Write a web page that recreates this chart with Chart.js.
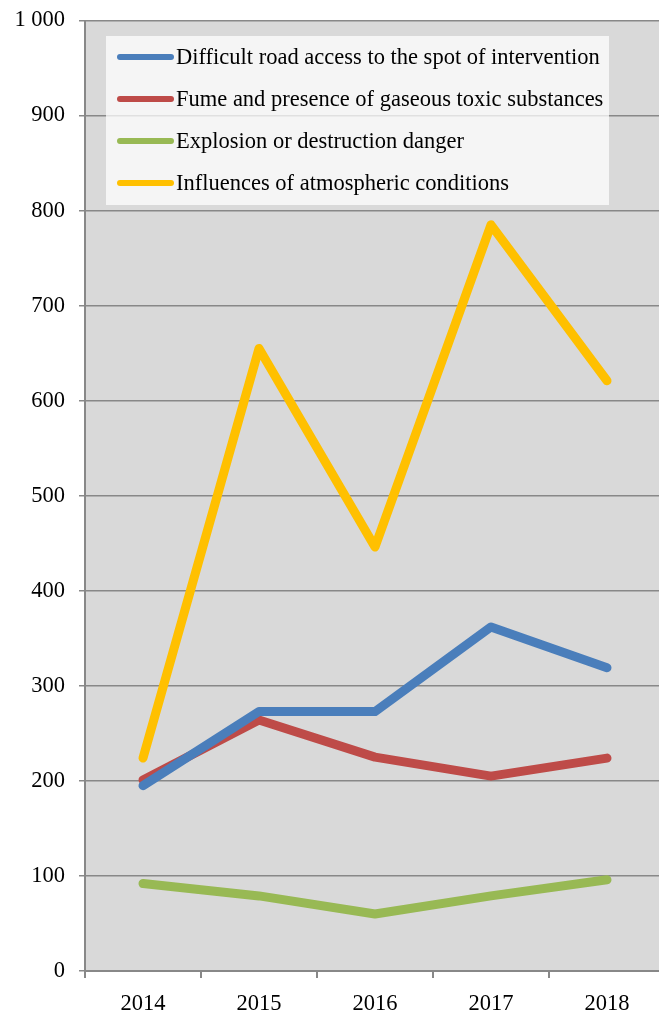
<!DOCTYPE html>
<html><head><meta charset="utf-8">
<script src="https://cdn.jsdelivr.net/npm/chart.js@4"></script>
<style>html,body{margin:0;padding:0;background:#fff;overflow:hidden}#w{width:666px;height:1022px;margin-top:-7px;position:relative}</style>
</head><body><div id="w"><canvas id="c"></canvas></div>
<script>
const years = ["2014","2015","2016","2017","2018"];
const seriesNames = ["Difficult road access to the spot of intervention","Fume and presence of gaseous toxic substances","Explosion or destruction danger","Influences of atmospheric conditions"];
const roadAccess = [195, 273, 273, 362, 319];
const fumeToxic = [201, 264, 225, 205, 224];
const explosion = [92, 79, 60, 79, 96];
const atmospheric = [224, 655, 446, 785, 621];
const yTicks = [0,100,200,300,400,500,600,700,800,900,1000];
const colors = ["#4a7ebb","#be4b48","#98b954","#ffc000"];
const FONT = "'Liberation Serif','Times New Roman',serif";

const bgPlugin = {
  id:'bg',
  beforeDraw(chart){
    const {ctx, chartArea:a} = chart;
    ctx.save(); ctx.fillStyle='#d9d9d9';
    ctx.fillRect(a.left,a.top,a.right-a.left,a.bottom-a.top); ctx.restore();
  }
};
const legendPlugin = {
  id:'boxLegend',
  afterDatasetsDraw(chart){
    const ctx = chart.ctx;
    const oy = 7; // compensates container offset
    ctx.save();
    ctx.fillStyle='rgba(255,255,255,0.74)';
    ctx.fillRect(106,36+oy,503,169);
    ctx.font = "22.5px " + FONT;
    ctx.textBaseline='middle';
    chart.data.datasets.forEach((ds,i)=>{
      const y = 57 + oy + i*42;
      ctx.strokeStyle = ds.borderColor; ctx.lineWidth=6; ctx.lineCap='round';
      ctx.beginPath(); ctx.moveTo(120,y); ctx.lineTo(171,y); ctx.stroke();
      ctx.fillStyle='#000'; ctx.fillText(ds.label,176,y+1);
    });
    ctx.restore();
  }
};
const data = [roadAccess, fumeToxic, explosion, atmospheric];
new Chart(document.getElementById('c'),{
  type:'line',
  data:{labels:years, datasets: data.map((d,i)=>({label:seriesNames[i], data:d, borderColor:colors[i], backgroundColor:colors[i], borderWidth:9, pointRadius:0, borderCapStyle:'round', borderJoinStyle:'round', tension:0}))},
  options:{
    responsive:true, maintainAspectRatio:false, animation:false,
    layout:{padding:{top:16,left:0,right:1,bottom:0}},
    plugins:{legend:{display:false}, tooltip:{enabled:false}},
    scales:{
      x:{offset:true,
        grid:{drawOnChartArea:false, offset:true, color:'#888', lineWidth:2, tickLength:7, tickColor:'#888'},
        border:{color:'#888', width:2},
        ticks:{color:'#000', font:{family:FONT,size:22.5}, padding:13, maxRotation:0},
        afterFit(s){ s.height = 44; }
      },
      y:{min:0,max:1000,
        afterBuildTicks(s){ s.ticks = yTicks.map(v=>({value:v})); },
        grid:{color:'#888', lineWidth:1.5, tickLength:6, tickColor:'#888'},
        border:{color:'#888', width:2},
        ticks:{color:'#000', font:{family:FONT,size:22.5}, padding:14,
          callback:v=> String(v).replace(/\B(?=(\d{3})+(?!\d))/g,' ')},
        afterFit(s){ s.width = 85; }
      }
    }
  },
  plugins:[bgPlugin, legendPlugin]
});
</script></body></html>
